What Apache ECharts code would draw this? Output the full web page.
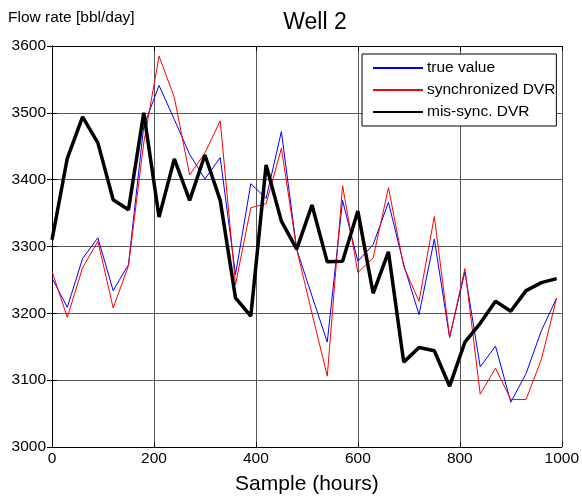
<!DOCTYPE html>
<html>
<head>
<meta charset="utf-8">
<script src="https://cdn.jsdelivr.net/npm/echarts@6/dist/echarts.min.js"></script>
<style>
  html, body { margin: 0; padding: 0; background: #fff; }
  #main { width: 582px; height: 500px; }
</style>
</head>
<body>
<div id="main"></div>
<script>
// sample times (hours)
var hours = [0, 30, 60, 90, 120, 150, 180, 210, 240, 270, 300, 330, 360, 390, 420, 450, 480,
             510, 540, 570, 600, 630, 660, 690, 720, 750, 780, 810, 840, 870, 900, 930, 960, 990];

var trueValue = [3253, 3209, 3282, 3313, 3234, 3273, 3480, 3541, 3490, 3438, 3401, 3433, 3258, 3394, 3372, 3472, 3296,
                 3226, 3157, 3369, 3278, 3303, 3366, 3273, 3198, 3311, 3164, 3262, 3120, 3151, 3067, 3110, 3174, 3223];

var syncDVR = [3263, 3194, 3268, 3308, 3208, 3271, 3455, 3585, 3523, 3407, 3440, 3488, 3243, 3358, 3364, 3447, 3296,
               3200, 3106, 3391, 3261, 3283, 3388, 3270, 3218, 3345, 3164, 3267, 3079, 3118, 3071, 3071, 3131, 3223];

var misSyncDVR = [3310, 3432, 3494, 3455, 3370, 3355, 3500, 3344, 3431, 3369, 3437, 3369, 3223, 3196, 3422, 3338, 3296,
                  3362, 3277, 3278, 3353, 3230, 3292, 3127, 3149, 3144, 3091, 3157, 3185, 3218, 3203, 3234, 3246, 3252];

function pairs(vals) {
    return hours.map(function (h, i) { return [h, vals[i]]; });
}
var plain = function (v) { return String(v); };   // no thousands separator

var font = 'Liberation Sans, Arial, sans-serif';
var Mychart = echarts.init(document.getElementById('main'));

var option = {
    backgroundColor: '#fff',
    animation: false,
    title: [{
        text: 'Well 2',
        left: 310,
        top: 6,
        textAlign: 'center',
        textStyle: { fontFamily: font, fontSize: 23, fontWeight: 'normal', color: '#000' }
    }, {
        text: 'Flow rate [bbl/day]',
        left: 3,
        top: 5,
        textStyle: { fontFamily: font, fontSize: 15.5, fontWeight: 'normal', color: '#000' }
    }],
    grid: { left: 52, right: 20, top: 46, bottom: 52 },
    legend: {
        orient: 'vertical',
        left: 362,
        top: 54,
        itemWidth: 50,
        itemHeight: 14,
        itemGap: 6,
        padding: [6, 1, 6, 10],
        borderColor: '#000',
        borderWidth: 1,
        backgroundColor: '#fff',
        itemStyle: { opacity: 0 },
        textStyle: { fontFamily: font, fontSize: 15.5, color: '#000', padding: [0, 0, 0, -1] },
        data: ['true value', 'synchronized DVR', 'mis-sync. DVR']
    },
    xAxis: [{
        type: 'value',
        min: 0, max: 1000, interval: 200,
        name: 'Sample (hours)',
        nameLocation: 'middle',
        nameGap: 27,
        nameTextStyle: { fontFamily: font, fontSize: 21, color: '#000' },
        axisLine: { lineStyle: { color: '#000', width: 1 } },
        axisTick: { inside: true, length: 5, lineStyle: { color: '#000' } },
        axisLabel: { fontFamily: font, fontSize: 15.5, color: '#000', margin: 4, formatter: plain },
        splitLine: { show: true, lineStyle: { color: '#555', width: 1 } }
    }, {
        type: 'value', position: 'top',
        min: 0, max: 1000, interval: 200,
        axisLine: { lineStyle: { color: '#000', width: 1 } },
        axisTick: { inside: true, length: 5, lineStyle: { color: '#000' } },
        axisLabel: { show: false },
        splitLine: { show: false }
    }],
    yAxis: [{
        type: 'value',
        min: 3000, max: 3600, interval: 100,
        axisLine: { show: true, lineStyle: { color: '#000', width: 1 } },
        axisTick: { show: true, inside: true, length: 5, lineStyle: { color: '#000' } },
        axisLabel: { fontFamily: font, fontSize: 15.5, color: '#000', margin: 6, formatter: plain },
        splitLine: { show: true, lineStyle: { color: '#555', width: 1 } }
    }, {
        type: 'value', position: 'right',
        min: 3000, max: 3600, interval: 100,
        axisLine: { show: true, lineStyle: { color: '#000', width: 1 } },
        axisTick: { show: true, inside: true, length: 5, lineStyle: { color: '#000' } },
        axisLabel: { show: false },
        splitLine: { show: false }
    }],
    series: [{
        name: 'true value',
        type: 'line',
        symbol: 'none',
        data: pairs(trueValue),
        itemStyle: { color: '#0000ff' },
        lineStyle: { color: '#0000ff', width: 1 },
        z: 3
    }, {
        name: 'synchronized DVR',
        type: 'line',
        symbol: 'none',
        data: pairs(syncDVR),
        itemStyle: { color: '#ff0000' },
        lineStyle: { color: '#ff0000', width: 1 },
        z: 4
    }, {
        name: 'mis-sync. DVR',
        type: 'line',
        symbol: 'none',
        data: pairs(misSyncDVR),
        itemStyle: { color: '#000' },
        lineStyle: { color: '#000', width: 3.5 },
        z: 5
    }]
};
Mychart.setOption(option);
</script>
</body>
</html>
